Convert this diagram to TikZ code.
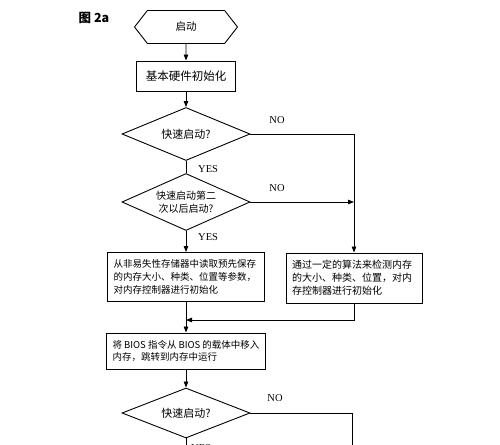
\documentclass[tikz,border=0pt]{standalone}
\usepackage{fontspec}
\setmainfont{Liberation Serif}
\newfontfamily\cjk{Noto Sans CJK SC}
\usetikzlibrary{arrows.meta,shapes.geometric,shapes.symbols}

\begin{document}
\begin{tikzpicture}[x=1pt,y=-1pt,
  box/.style={rectangle,draw,line width=0.9pt,font=\cjk\fontsize{9.5}{13}\selectfont,
    align=left,inner xsep=6pt,inner ysep=4pt},
  decision/.style={diamond,draw,line width=0.9pt,aspect=2.5,inner sep=0pt,
    minimum width=128pt,font=\cjk\fontsize{10}{12.5}\selectfont,align=center},
  arr/.style={-{Triangle[length=6pt,width=4.5pt]},line width=0.8pt},
  lbl/.style={font=\fontsize{10.5}{12}\selectfont,inner sep=1pt}]
\useasboundingbox (0,0) rectangle (500,444);

\node[font=\cjk\bfseries\fontsize{12.5}{14}\selectfont] (title) at (94,18) {图 2a};

\node[signal,signal to=west and east,signal pointer angle=104,draw,line width=0.9pt,
  minimum width=103pt,minimum height=33pt,inner sep=0pt,
  font=\cjk\fontsize{10.5}{12}\selectfont] (start) at (186,27) {启动};
\node[box,minimum width=99pt,minimum height=30pt,align=center,
  font=\cjk\fontsize{11.5}{13}\selectfont] (hw) at (186,76) {基本硬件初始化};

\node[decision,minimum height=53pt,font=\cjk\fontsize{11}{13}\selectfont] (fast1) at (186,134) {快速启动?};
\node[decision,minimum height=57pt] (second) at (186,202) {快速启动第二\\次以后启动?};

\node[box,text width=145pt,minimum height=49pt] (readnv) at (186,277)
  {从非易失性存储器中读取预先保存\\的内存大小、种类、位置等参数，\\对内存控制器进行初始化};
\node[box,text width=124pt,minimum height=50pt,font=\cjk\fontsize{10}{13}\selectfont] (detect) at (354,278)
  {通过一定的算法来检测内存\\的大小、种类、位置，对内\\存控制器进行初始化};

\node[box,minimum width=157pt,minimum height=36pt,font=\cjk\fontsize{9.5}{12}\selectfont] (bios) at (186,351)
  {将 BIOS 指令从 BIOS 的载体中移入\\内存，跳转到内存中运行};
\node[decision,minimum height=50pt,font=\cjk\fontsize{11}{13}\selectfont] (fast2) at (186,413) {快速启动?};

\coordinate (join1) at (354,202);
\coordinate (join2) at (186,320);
\coordinate (endno) at (352,450);
\coordinate (endyes) at (186,450);

% main line
\draw[arr] (start) -- (hw);
\draw[arr] (hw) -- (fast1);
\draw[line width=0.8pt] (fast1) -- (second);
\draw[arr] (second) -- (readnv);
\draw[arr] (readnv) -- (bios);
\draw[arr] (bios) -- (fast2);
\draw[line width=0.8pt] (fast2) -- (endyes);

% NO branches
\draw[arr] (fast1.east) -| (detect.north);
\draw[arr] (second.east) -- (join1);
\draw[arr] (detect.south) |- (join2);
\draw[line width=0.8pt] (fast2.east) -| (endno);

\node[lbl] (no1) at (277,120) {NO};
\node[lbl,anchor=west] (yes1) at (197,169) {YES};
\node[lbl] (no2) at (277,188) {NO};
\node[lbl,anchor=west] (yes2) at (197,237) {YES};
\node[lbl] (no3) at (275,398) {NO};
\node[lbl,anchor=west] (yes3) at (190,448) {YES};
\end{tikzpicture}
\end{document}
